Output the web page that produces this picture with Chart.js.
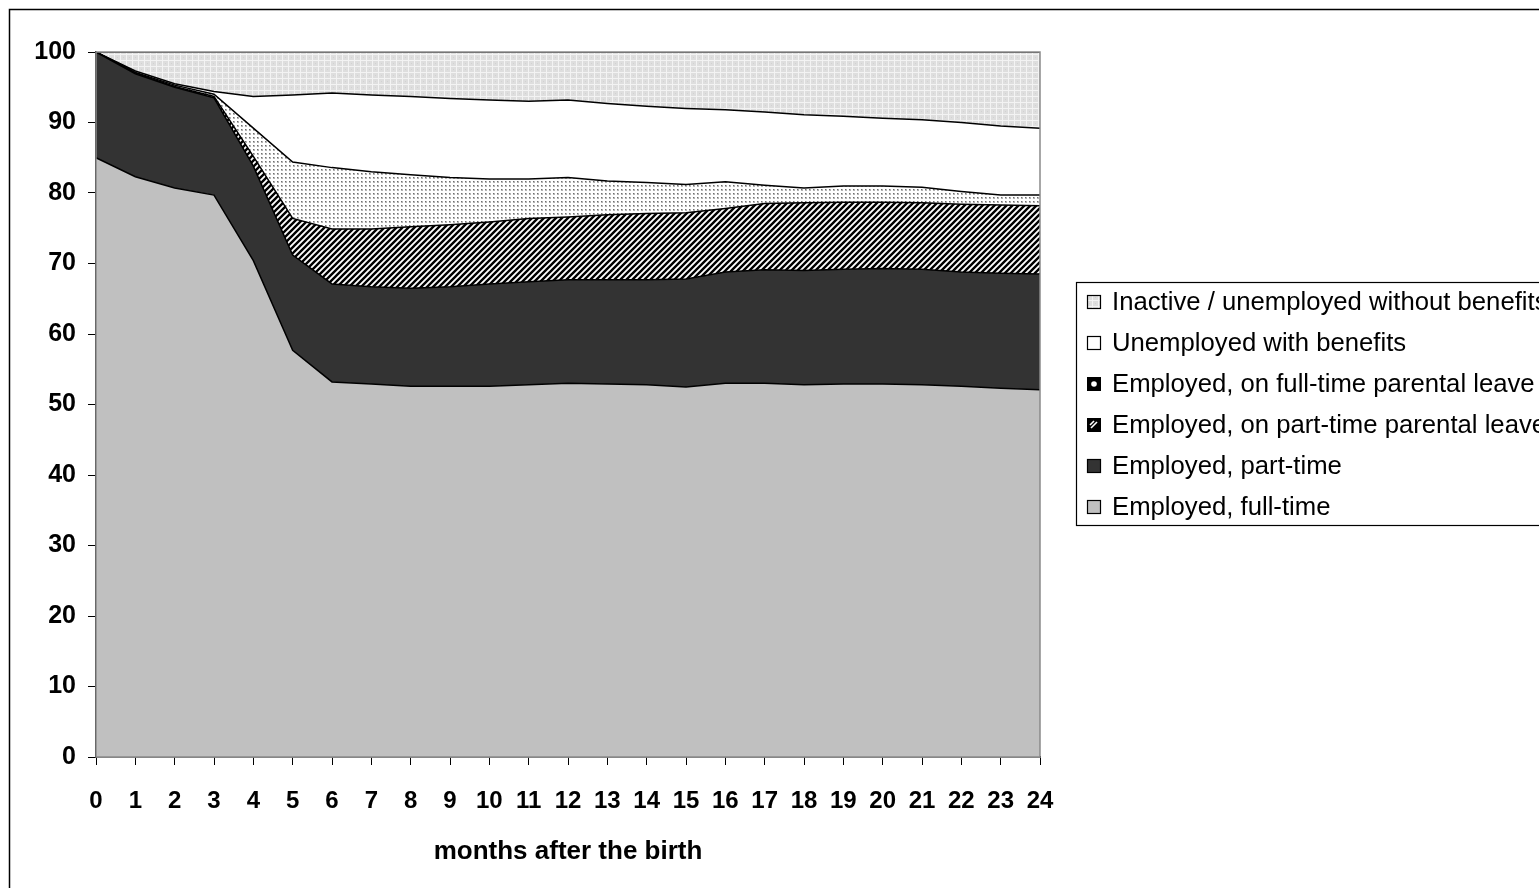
<!DOCTYPE html>
<html>
<head>
<meta charset="utf-8">
<script src="https://cdn.jsdelivr.net/npm/chart.js@4.4.1/dist/chart.umd.min.js"></script>
<style>
html,body{margin:0;padding:0;background:#fff;overflow:hidden}
canvas{display:block}
</style>
</head>
<body>
<canvas id="c" width="1539" height="888"></canvas>
<script>
// ---- data (shares in %, stacked from bottom) ----
const months = ['0','1','2','3','4','5','6','7','8','9','10','11','12','13','14','15','16','17','18','19','20','21','22','23','24'];
const yTicks = [0,10,20,30,40,50,60,70,80,90,100];
const seriesNames = [
  'Employed, full-time',
  'Employed, part-time',
  'Employed, on part-time parental leave',
  'Employed, on full-time parental leave',
  'Unemployed with benefits',
  'Inactive / unemployed without benefits'
];
const employedFullTime     = [85.0,82.3,80.7,79.7,70.4,57.7,53.2,52.9,52.6,52.6,52.6,52.8,53.0,52.9,52.8,52.5,53.0,53.0,52.8,52.9,52.9,52.8,52.6,52.3,52.1];
const employedPartTime     = [15.0,14.6,14.3,13.8,13.4,13.5,13.9,13.8,13.9,14.1,14.5,14.6,14.7,14.8,14.9,15.3,15.8,16.1,16.2,16.3,16.4,16.4,16.2,16.3,16.4];
const partTimeLeave        = [0.0,0.1,0.1,0.2,1.4,5.2,7.8,8.2,8.7,8.8,8.8,9.0,8.9,9.2,9.4,9.4,9.0,9.4,9.6,9.5,9.4,9.4,9.6,9.7,9.7];
const fullTimeLeave        = [0.0,0.1,0.2,0.3,4.0,8.0,8.7,8.1,7.4,6.7,6.1,5.6,5.6,4.8,4.4,4.0,3.8,2.6,2.1,2.3,2.3,2.2,1.8,1.4,1.5];
const unemployedBenefits   = [0.0,0.2,0.2,0.4,4.5,9.5,10.6,10.9,11.1,11.2,11.2,11.0,11.0,11.0,10.8,10.8,10.2,10.4,10.4,9.9,9.6,9.6,9.8,9.8,9.5];
const inactiveNoBenefits   = [0.0,2.7,4.5,5.6,6.3,6.1,5.8,6.1,6.3,6.6,6.8,7.0,6.8,7.3,7.7,8.0,8.2,8.5,8.9,9.1,9.4,9.6,10.0,10.5,10.8];

// ---- patterns ----
function makePattern(w, h, draw) {
  const c = document.createElement('canvas');
  c.width = w; c.height = h;
  const x = c.getContext('2d');
  draw(x);
  return x.createPattern(c, 'repeat');
}
const inactivePattern = makePattern(6, 6, x => {
  x.fillStyle = '#dedede'; x.fillRect(0, 0, 6, 6);
  x.fillStyle = '#f3f3f3'; x.fillRect(0, 0, 6, 1); x.fillRect(0, 0, 1, 6);
  x.fillStyle = '#d2d2d2'; x.fillRect(3, 3, 1, 1);
});
const ftLeavePattern = makePattern(4, 4, x => {
  x.fillStyle = '#ffffff'; x.fillRect(0, 0, 4, 4);
  x.fillStyle = '#b4b4b4';
  x.fillRect(1, 1, 2, 2);
  x.fillStyle = '#6e6e6e';
  x.fillRect(1, 1, 1, 1);
});
const ptLeavePattern = makePattern(6, 6, x => {
  x.fillStyle = '#ffffff'; x.fillRect(0, 0, 6, 6);
  x.strokeStyle = '#000000'; x.lineWidth = 2.4;
  x.beginPath();
  x.moveTo(-1, 1); x.lineTo(1, -1);
  x.moveTo(0, 6); x.lineTo(6, 0);
  x.moveTo(5, 7); x.lineTo(7, 5);
  x.stroke();
});

const fills = ['#c0c0c0', '#333333', ptLeavePattern, ftLeavePattern, '#ffffff', inactivePattern];
const values = [employedFullTime, employedPartTime, partTimeLeave, fullTimeLeave, unemployedBenefits, inactiveNoBenefits];

const datasets = values.map((v, i) => ({
  label: seriesNames[i],
  data: v,
  backgroundColor: fills[i],
  borderColor: '#000000',
  borderWidth: 1.5,
  pointRadius: 0,
  pointHoverRadius: 0,
  tension: 0,
  fill: i === 0 ? 'origin' : '-1'
}));

const FONT = '"Liberation Sans", Arial, sans-serif';

const decor = {
  id: 'decor',
  afterDatasetsDraw(chart) {
    const c = chart.ctx, a = chart.chartArea;
    c.save();
    c.strokeStyle = '#8a8a8a';
    c.lineWidth = 1.5;
    c.strokeRect(a.left, a.top, a.right - a.left, a.bottom - a.top);
    c.restore();
  },
  afterDraw(chart) {
    const c = chart.ctx;
    c.save();
    // outer frame
    c.strokeStyle = '#000000';
    c.lineWidth = 1.5;
    c.strokeRect(9.5, 9.5, 2000, 2000);
    // legend box
    c.lineWidth = 1.2;
    c.strokeRect(1076.5, 282.5, 1000, 243);
    const ds = chart.data.datasets;
    const rowY = [302, 343, 384, 425, 466, 507];
    c.font = '25.7px ' + FONT;
    c.textBaseline = 'middle';
    c.textAlign = 'left';
    for (let r = 0; r < ds.length; r++) {
      const d = ds[ds.length - 1 - r];
      const y = rowY[r];
      const mx = 1087, my = y - 7, s = 14;
      if (r === 2) {
        c.fillStyle = '#000'; c.fillRect(mx, my, s, s);
        c.fillStyle = '#fff'; c.beginPath(); c.arc(mx + s / 2, my + s / 2, 2.8, 0, Math.PI * 2); c.fill();
      } else if (r === 3) {
        c.fillStyle = '#000'; c.fillRect(mx, my, s, s);
        c.strokeStyle = '#fff'; c.lineWidth = 1.6;
        c.beginPath(); c.moveTo(mx + 4, my + s - 4); c.lineTo(mx + s - 4, my + 4); c.stroke();
        c.beginPath(); c.moveTo(mx + 3, my + 7); c.lineTo(mx + 7, my + 3); c.stroke();
      } else {
        c.fillStyle = d.backgroundColor;
        c.fillRect(mx, my, s, s);
        c.strokeStyle = '#000'; c.lineWidth = 1.2;
        c.strokeRect(mx + 0.5, my + 0.5, s - 1, s - 1);
      }
      c.fillStyle = '#000';
      c.fillText(d.label, 1112, y + 1);
    }
    c.restore();
  }
};

new Chart(document.getElementById('c'), {
  type: 'line',
  data: { labels: months, datasets },
  options: {
    responsive: false,
    animation: false,
    events: [],
    layout: { padding: { left: 0, top: 52, right: 499, bottom: 0 } },
    plugins: { legend: { display: false }, tooltip: { enabled: false } },
    scales: {
      x: {
        z: 1,
        offset: false,
        grid: { display: true, drawOnChartArea: false, drawTicks: true, tickLength: 8, color: '#000' },
        border: { display: true, color: '#000', width: 1.5 },
        ticks: { color: '#000', font: { family: FONT, size: 24, weight: 'bold' }, padding: 22, maxRotation: 0, autoSkip: false },
        title: { display: true, text: 'months after the birth', color: '#000', font: { family: FONT, size: 26, weight: 'bold' }, padding: { top: 0, bottom: 21 } },
        afterFit(s) { s.height = 131; }
      },
      y: {
        z: 1,
        stacked: true,
        min: 0, max: 100,
        afterBuildTicks(s) { s.ticks = yTicks.map(v => ({ value: v })); },
        grid: { display: true, drawOnChartArea: false, drawTicks: true, tickLength: 8, color: '#000' },
        border: { display: true, color: '#000', width: 1.5 },
        ticks: { color: '#000', font: { family: FONT, size: 25, weight: 'bold' }, padding: 12 },
        afterFit(s) { s.width = 96; }
      }
    }
  },
  plugins: [decor]
});
</script>
</body>
</html>
